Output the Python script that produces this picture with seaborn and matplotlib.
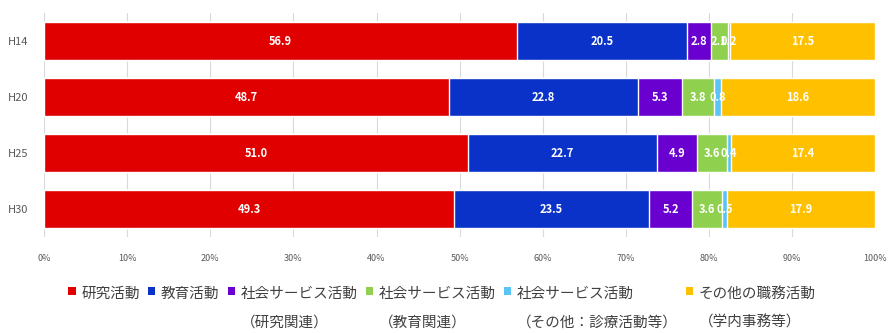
import matplotlib
matplotlib.use("Agg")
import matplotlib.pyplot as plt
import seaborn as sns
import numpy as np
import pandas as pd
from matplotlib.patches import Patch, Rectangle
from matplotlib.legend_handler import HandlerPatch

years = ["H14", "H20", "H25", "H30"]
series_names = [
    "研究活動\n\u3000",
    "教育活動\n\u3000",
    "社会サービス活動\n（研究関連）",
    "社会サービス活動\n（教育関連）",
    "社会サービス活動\n（その他：診療活動等）",
    "その他の職務活動\n（学内事務等）",
]
research = [56.9, 48.7, 51.0, 49.3]
education = [20.5, 22.8, 22.7, 23.5]
social_research = [2.8, 5.3, 4.9, 5.2]
social_education = [2.1, 3.8, 3.6, 3.6]
social_other = [0.2, 0.8, 0.4, 0.5]
other_duties = [17.5, 18.6, 17.4, 17.9]
colors = ["#E00000", "#0A32C8", "#6A00D0", "#8FD14F", "#5BC4F5", "#FFC000"]
x_ticks = [0, 10, 20, 30, 40, 50, 60, 70, 80, 90, 100]

sns.set_theme(style="white")
plt.rcParams["font.family"] = ["Noto Sans CJK JP", "DejaVu Sans"]

values = [research, education, social_research, social_education, social_other, other_duties]
cum = np.cumsum(np.array(values), axis=0)

fig = plt.figure(figsize=(8.91, 3.33), dpi=100)
ax = fig.add_axes([0.0494, 0.288, 0.933, 0.673])

for i in range(len(values) - 1, -1, -1):
    d = pd.DataFrame({"year": years, "v": cum[i]})
    sns.barplot(data=d, y="year", x="v", orient="h", color=colors[i],
                width=0.67, ax=ax, saturation=1, zorder=3)

for i, vals in enumerate(values):
    for j, v in enumerate(vals):
        center = cum[i][j] - v / 2
        ax.text(center, j, f"{v:.1f}", ha="center", va="center",
                color="white", fontsize=8, fontweight="bold", zorder=5)

ax.set_xlim(0, 100)
ax.set_ylim(3.5, -0.5)
ax.set_xticks(x_ticks)
ax.set_xticklabels([f"{t}%" for t in x_ticks], fontsize=6.5, color="#595959")
ax.tick_params(axis="x", length=0, pad=12)
ax.tick_params(axis="y", length=0, pad=11, labelsize=8, labelcolor="#595959")
ax.set_xlabel("")
ax.set_ylabel("")
ax.grid(axis="x", color="#D9D9D9", linewidth=0.8, zorder=0)
for s in ax.spines.values():
    s.set_visible(False)


class TopSquareHandler(HandlerPatch):
    def __init__(self, shift, **kw):
        super().__init__(**kw)
        self.shift = shift

    def create_artists(self, legend, orig_handle, xdescent, ydescent,
                       width, height, fontsize, trans):
        p = Rectangle((-xdescent, -ydescent + self.shift), width, height)
        self.update_prop(p, orig_handle, legend)
        p.set_transform(trans)
        return [p]


handles = [Patch(facecolor=c, edgecolor="none") for c in colors]
leg = fig.legend(handles, series_names, loc="center left", bbox_to_anchor=(0.0684, 0.075),
                 ncol=6, frameon=False, fontsize=10.5, handlelength=0.5, handleheight=0.5,
                 handletextpad=0.4, columnspacing=0.55, borderpad=0, labelcolor="#404040",
                 handler_map={Patch: TopSquareHandler(12.3)})
for t in leg.get_texts():
    t.set_linespacing(2.3)

fig.savefig("out.png", dpi=100)
